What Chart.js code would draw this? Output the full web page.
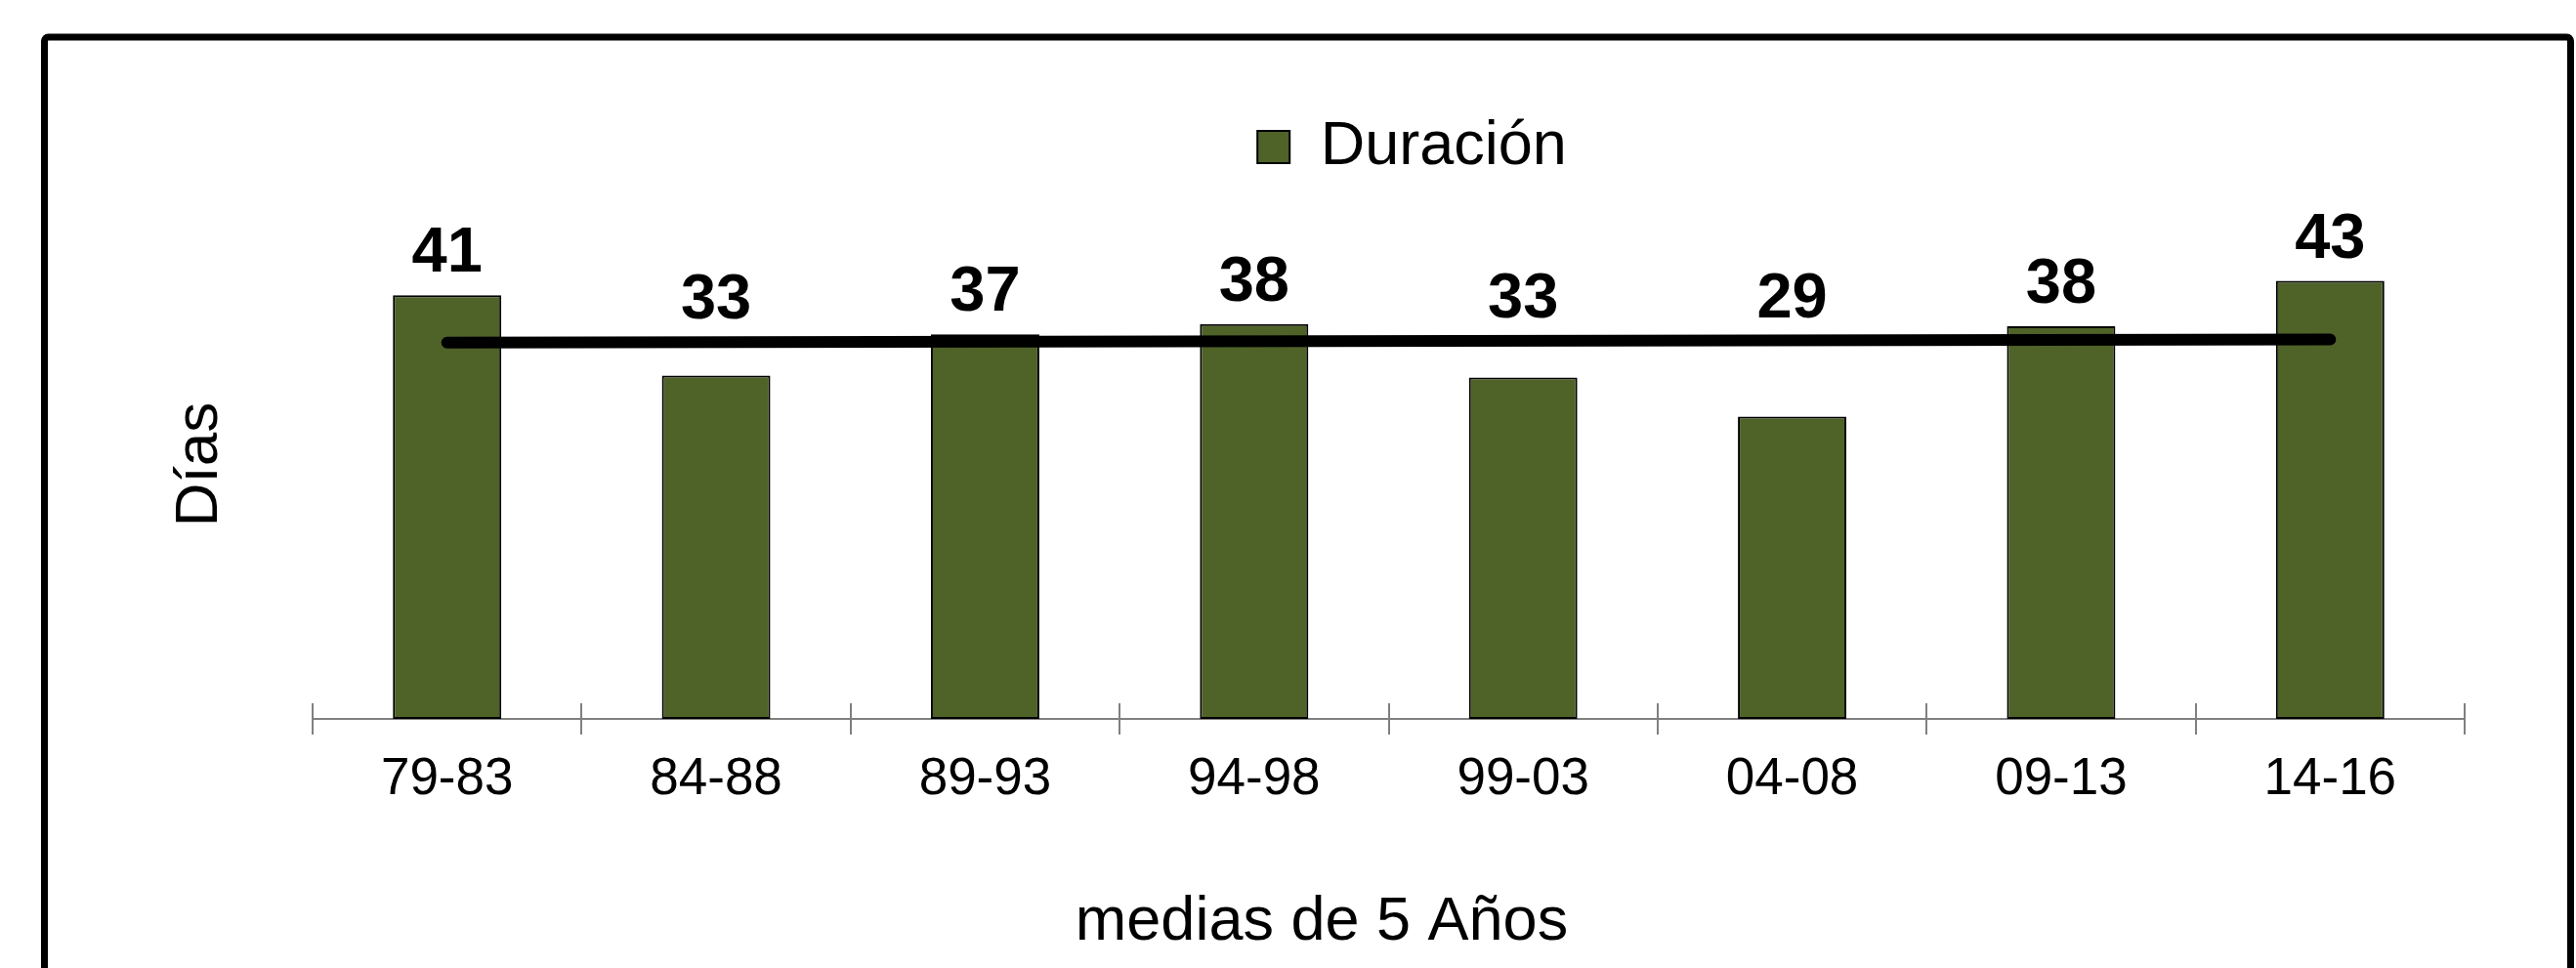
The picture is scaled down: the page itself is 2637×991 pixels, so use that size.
<!DOCTYPE html>
<html><head><meta charset="utf-8">
<script src="https://cdn.jsdelivr.net/npm/chart.js@4/dist/chart.umd.min.js"></script>
<style>html,body{margin:0;padding:0;background:#fff;overflow:hidden}canvas{display:block}</style>
</head><body>
<canvas id="c" width="2637" height="991"></canvas>
<script>
// ---- data ----
const categories = ['79-83', '84-88', '89-93', '94-98', '99-03', '04-08', '09-13', '14-16'];
const duracion = [41.2, 33.4, 37.4, 38.4, 33.2, 29.4, 38.2, 42.6];
const tendencia = [36.6, null, null, null, null, null, null, 36.9];
const seriesName = 'Duración';
const xTitle = 'medias de 5 Años';
const yTitle = 'Días';
const yMin = 0;
const yMax = 49.5;

const FONT = '"Liberation Sans", Arial, sans-serif';
Chart.defaults.font.family = FONT;
Chart.defaults.color = '#000';

const framePlugin = {
  id: 'frame',
  beforeDraw(chart) {
    const ctx = chart.ctx;
    ctx.save();
    ctx.fillStyle = '#fff';
    ctx.fillRect(0, 0, chart.width, chart.height);
    ctx.strokeStyle = '#000';
    ctx.lineWidth = 7;
    ctx.beginPath();
    ctx.roundRect(45.5, 38, 2586, 1000, 4);
    ctx.stroke();
    ctx.restore();
  }
};

const legendShift = {
  id: 'legendShift',
  afterLayout(chart) {
    const l = chart.legend;
    if (l) { l.left += 24; l.right += 24; l.top -= 23; l.bottom -= 23; }
  }
};

const innerTicks = {
  id: 'innerTicks',
  afterDraw(chart) {
    const xs = chart.scales.x;
    const ctx = chart.ctx;
    const b = chart.chartArea.bottom;
    ctx.save();
    ctx.strokeStyle = '#808080';
    ctx.lineWidth = 2;
    ctx.beginPath();
    for (let i = 0; i <= categories.length; i++) {
      const x = Math.round(xs.getPixelForValue(i - 0.5));
      ctx.moveTo(x, b - 16);
      ctx.lineTo(x, b);
    }
    ctx.stroke();
    ctx.restore();
  }
};

const valueLabels = {
  id: 'valueLabels',
  afterDatasetsDraw(chart) {
    const ctx = chart.ctx;
    const bars = chart.getDatasetMeta(0).data;
    const pts = chart.getDatasetMeta(1).data;
    const p0 = pts[0], p1 = pts[pts.length - 1];
    ctx.save();
    ctx.font = 'bold 65px ' + FONT;
    ctx.fillStyle = '#000';
    ctx.textAlign = 'center';
    ctx.textBaseline = 'alphabetic';
    bars.forEach((bar, i) => {
      const t = (bar.x - p0.x) / (p1.x - p0.x);
      const ly = p0.y + t * (p1.y - p0.y);
      const ref = Math.min(bar.y, ly);
      ctx.fillText(String(Math.round(duracion[i])), bar.x, ref - 24);
    });
    ctx.restore();
  }
};

new Chart(document.getElementById('c'), {
  data: {
    labels: categories,
    datasets: [
      {
        type: 'bar',
        label: seriesName,
        data: duracion,
        backgroundColor: '#4F6228',
        borderColor: '#000',
        borderWidth: 2,
        borderSkipped: false,
        barPercentage: 0.403,
        categoryPercentage: 1,
        order: 1
      },
      {
        type: 'line',
        label: 'Tendencia',
        data: tendencia,
        spanGaps: true,
        borderColor: '#000',
        borderWidth: 12,
        borderCapStyle: 'round',
        pointRadius: 0,
        fill: false,
        order: 0
      }
    ]
  },
  options: {
    responsive: false,
    animation: false,
    devicePixelRatio: 1,
    layout: { padding: { left: 183, right: 114, top: 132, bottom: 8.2 } },
    plugins: {
      legend: {
        display: true,
        position: 'top',
        fullSize: false,
        align: 'center',
        labels: {
          boxWidth: 33, boxHeight: 33, padding: 10, color: '#000',
          font: { size: 63 },
          filter: (it) => it.datasetIndex === 0
        }
      },
      title: {
        display: true,
        position: 'bottom',
        text: xTitle,
        color: '#000',
        font: { size: 63, weight: 'normal' },
        padding: { top: 61.6, bottom: 0 }
      },
      tooltip: { enabled: false }
    },
    scales: {
      x: {
        offset: true,
        grid: { display: true, drawOnChartArea: false, drawTicks: true, tickLength: 16, color: '#808080', lineWidth: 2, offset: true },
        border: { display: true, color: '#808080', width: 2 },
        ticks: { color: '#000', font: { size: 53 }, padding: 15, maxRotation: 0, autoSkip: false }
      },
      y: {
        min: yMin,
        max: yMax,
        ticks: { display: false },
        grid: { display: false, drawTicks: false },
        border: { display: false },
        title: {
          display: true, text: yTitle, color: '#000',
          font: { size: 62, lineHeight: 44 / 62 },
          padding: { top: 0, bottom: 93 }
        }
      }
    }
  },
  plugins: [framePlugin, legendShift, innerTicks, valueLabels]
});
</script>
</body></html>
